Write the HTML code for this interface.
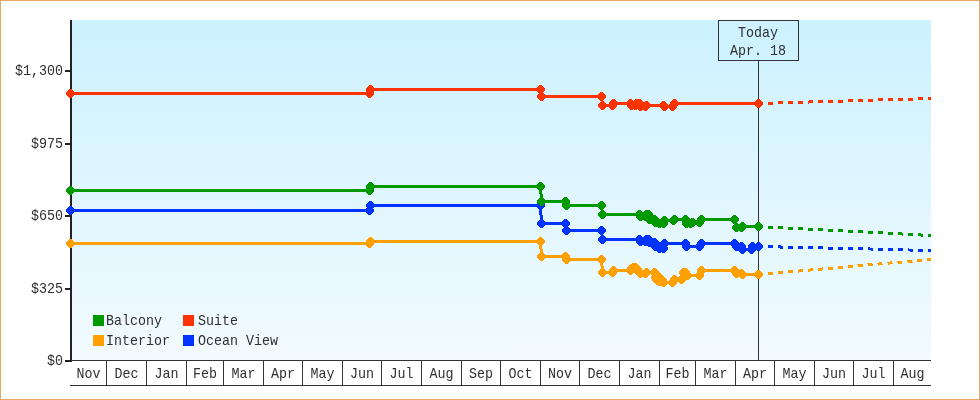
<!DOCTYPE html>
<html lang="en">
<head>
<meta charset="utf-8">
<title>Price history chart</title>
<style>
html,body{margin:0;padding:0;background:#ffffff;}
body{width:980px;height:400px;overflow:hidden;position:relative;}
#chart{position:absolute;left:0;top:0;width:980px;height:400px;box-sizing:border-box;border:1px solid #E8A964;background:#ffffff;}
#chart svg{position:absolute;left:-1px;top:-1px;display:block;}
</style>
</head>
<body>
<div id="chart">
<svg width="980" height="400" viewBox="0 0 980 400">
<defs><linearGradient id="bg" x1="0" y1="0" x2="0" y2="1"><stop offset="0" stop-color="#CCF1FF"/><stop offset="1" stop-color="#F2FBFF"/></linearGradient></defs>
<rect x="70" y="20" width="861" height="340" fill="url(#bg)"/>
<g shape-rendering="crispEdges">
<rect x="758" y="60" width="1" height="300" fill="#333333"/>
<rect x="718.5" y="20.5" width="80" height="40" fill="#CEF2FF" stroke="#333333" stroke-width="1"/>
<rect x="70" y="20" width="2" height="342" fill="#222222"/>
<rect x="70" y="360" width="861" height="1" fill="#333333"/>
<rect x="70" y="385" width="861" height="1" fill="#333333"/>
<rect x="106" y="360" width="1" height="26" fill="#333333"/>
<rect x="146" y="360" width="1" height="26" fill="#333333"/>
<rect x="186" y="360" width="1" height="26" fill="#333333"/>
<rect x="223" y="360" width="1" height="26" fill="#333333"/>
<rect x="263" y="360" width="1" height="26" fill="#333333"/>
<rect x="302" y="360" width="1" height="26" fill="#333333"/>
<rect x="342" y="360" width="1" height="26" fill="#333333"/>
<rect x="381" y="360" width="1" height="26" fill="#333333"/>
<rect x="421" y="360" width="1" height="26" fill="#333333"/>
<rect x="461" y="360" width="1" height="26" fill="#333333"/>
<rect x="500" y="360" width="1" height="26" fill="#333333"/>
<rect x="540" y="360" width="1" height="26" fill="#333333"/>
<rect x="579" y="360" width="1" height="26" fill="#333333"/>
<rect x="619" y="360" width="1" height="26" fill="#333333"/>
<rect x="659" y="360" width="1" height="26" fill="#333333"/>
<rect x="695" y="360" width="1" height="26" fill="#333333"/>
<rect x="735" y="360" width="1" height="26" fill="#333333"/>
<rect x="774" y="360" width="1" height="26" fill="#333333"/>
<rect x="814" y="360" width="1" height="26" fill="#333333"/>
<rect x="853" y="360" width="1" height="26" fill="#333333"/>
<rect x="893" y="360" width="1" height="26" fill="#333333"/>
<rect x="65" y="70" width="6" height="2" fill="#222222"/>
<rect x="65" y="143" width="6" height="2" fill="#222222"/>
<rect x="65" y="215" width="6" height="2" fill="#222222"/>
<rect x="65" y="288" width="6" height="2" fill="#222222"/>
<rect x="65" y="360" width="6" height="2" fill="#222222"/>
</g>
<g shape-rendering="crispEdges" fill="#FF9F00" stroke="none">
<polyline points="70.5,243.5 369.5,243.5 370.5,241.5 540.5,241.5 541.5,256.5 565.5,256.5 566.5,259.5 601.5,259.5 602.5,272.5 612.5,272.5 613.5,270.5 630.5,270.5 631.5,268.5 633.5,267.5 635.5,267.5 640.5,273.5 645.5,273.5 646.5,272.5 654.5,272.5 655.5,277.5 659.5,281.5 663.5,282.5 672.5,282.5 674.5,279.5 681.5,279.5 683.5,272.5 685.5,272.5 687.5,275.5 699.5,275.5 701.5,270.5 734.5,270.5 736.5,273.5 741.5,273.5 742.5,274.5 758.5,274.5" fill="none" stroke="#FF9F00" stroke-width="3" stroke-linejoin="miter"/>
<polyline points="759,274.5 931,259.45" fill="none" stroke="#FF9F00" stroke-width="3" stroke-dasharray="5 5" stroke-dashoffset="1"/>
<path d="M69 239h3v1h1v1h1v1h1v3h-1v1h-1v1h-1v1h-3v-1h-1v-1h-1v-1h-1v-3h1v-1h1v-1h1zM368 239h3v1h1v1h1v1h1v3h-1v1h-1v1h-1v1h-3v-1h-1v-1h-1v-1h-1v-3h1v-1h1v-1h1zM369 237h3v1h1v1h1v1h1v3h-1v1h-1v1h-1v1h-3v-1h-1v-1h-1v-1h-1v-3h1v-1h1v-1h1zM539 237h3v1h1v1h1v1h1v3h-1v1h-1v1h-1v1h-3v-1h-1v-1h-1v-1h-1v-3h1v-1h1v-1h1zM540 252h3v1h1v1h1v1h1v3h-1v1h-1v1h-1v1h-3v-1h-1v-1h-1v-1h-1v-3h1v-1h1v-1h1zM564 252h3v1h1v1h1v1h1v3h-1v1h-1v1h-1v1h-3v-1h-1v-1h-1v-1h-1v-3h1v-1h1v-1h1zM565 255h3v1h1v1h1v1h1v3h-1v1h-1v1h-1v1h-3v-1h-1v-1h-1v-1h-1v-3h1v-1h1v-1h1zM600 255h3v1h1v1h1v1h1v3h-1v1h-1v1h-1v1h-3v-1h-1v-1h-1v-1h-1v-3h1v-1h1v-1h1zM601 268h3v1h1v1h1v1h1v3h-1v1h-1v1h-1v1h-3v-1h-1v-1h-1v-1h-1v-3h1v-1h1v-1h1zM611 268h3v1h1v1h1v1h1v3h-1v1h-1v1h-1v1h-3v-1h-1v-1h-1v-1h-1v-3h1v-1h1v-1h1zM612 266h3v1h1v1h1v1h1v3h-1v1h-1v1h-1v1h-3v-1h-1v-1h-1v-1h-1v-3h1v-1h1v-1h1zM629 266h3v1h1v1h1v1h1v3h-1v1h-1v1h-1v1h-3v-1h-1v-1h-1v-1h-1v-3h1v-1h1v-1h1zM630 264h3v1h1v1h1v1h1v3h-1v1h-1v1h-1v1h-3v-1h-1v-1h-1v-1h-1v-3h1v-1h1v-1h1zM632 263h3v1h1v1h1v1h1v3h-1v1h-1v1h-1v1h-3v-1h-1v-1h-1v-1h-1v-3h1v-1h1v-1h1zM634 263h3v1h1v1h1v1h1v3h-1v1h-1v1h-1v1h-3v-1h-1v-1h-1v-1h-1v-3h1v-1h1v-1h1zM639 269h3v1h1v1h1v1h1v3h-1v1h-1v1h-1v1h-3v-1h-1v-1h-1v-1h-1v-3h1v-1h1v-1h1zM644 269h3v1h1v1h1v1h1v3h-1v1h-1v1h-1v1h-3v-1h-1v-1h-1v-1h-1v-3h1v-1h1v-1h1zM645 268h3v1h1v1h1v1h1v3h-1v1h-1v1h-1v1h-3v-1h-1v-1h-1v-1h-1v-3h1v-1h1v-1h1zM653 268h3v1h1v1h1v1h1v3h-1v1h-1v1h-1v1h-3v-1h-1v-1h-1v-1h-1v-3h1v-1h1v-1h1zM654 273h3v1h1v1h1v1h1v3h-1v1h-1v1h-1v1h-3v-1h-1v-1h-1v-1h-1v-3h1v-1h1v-1h1zM658 277h3v1h1v1h1v1h1v3h-1v1h-1v1h-1v1h-3v-1h-1v-1h-1v-1h-1v-3h1v-1h1v-1h1zM662 278h3v1h1v1h1v1h1v3h-1v1h-1v1h-1v1h-3v-1h-1v-1h-1v-1h-1v-3h1v-1h1v-1h1zM671 278h3v1h1v1h1v1h1v3h-1v1h-1v1h-1v1h-3v-1h-1v-1h-1v-1h-1v-3h1v-1h1v-1h1zM673 275h3v1h1v1h1v1h1v3h-1v1h-1v1h-1v1h-3v-1h-1v-1h-1v-1h-1v-3h1v-1h1v-1h1zM680 275h3v1h1v1h1v1h1v3h-1v1h-1v1h-1v1h-3v-1h-1v-1h-1v-1h-1v-3h1v-1h1v-1h1zM682 268h3v1h1v1h1v1h1v3h-1v1h-1v1h-1v1h-3v-1h-1v-1h-1v-1h-1v-3h1v-1h1v-1h1zM684 268h3v1h1v1h1v1h1v3h-1v1h-1v1h-1v1h-3v-1h-1v-1h-1v-1h-1v-3h1v-1h1v-1h1zM686 271h3v1h1v1h1v1h1v3h-1v1h-1v1h-1v1h-3v-1h-1v-1h-1v-1h-1v-3h1v-1h1v-1h1zM698 271h3v1h1v1h1v1h1v3h-1v1h-1v1h-1v1h-3v-1h-1v-1h-1v-1h-1v-3h1v-1h1v-1h1zM700 266h3v1h1v1h1v1h1v3h-1v1h-1v1h-1v1h-3v-1h-1v-1h-1v-1h-1v-3h1v-1h1v-1h1zM733 266h3v1h1v1h1v1h1v3h-1v1h-1v1h-1v1h-3v-1h-1v-1h-1v-1h-1v-3h1v-1h1v-1h1zM735 269h3v1h1v1h1v1h1v3h-1v1h-1v1h-1v1h-3v-1h-1v-1h-1v-1h-1v-3h1v-1h1v-1h1zM740 269h3v1h1v1h1v1h1v3h-1v1h-1v1h-1v1h-3v-1h-1v-1h-1v-1h-1v-3h1v-1h1v-1h1zM741 270h3v1h1v1h1v1h1v3h-1v1h-1v1h-1v1h-3v-1h-1v-1h-1v-1h-1v-3h1v-1h1v-1h1zM757 270h3v1h1v1h1v1h1v3h-1v1h-1v1h-1v1h-3v-1h-1v-1h-1v-1h-1v-3h1v-1h1v-1h1zM635 264h3v1h1v1h1v1h1v3h-1v1h-1v1h-1v1h-3v-1h-1v-1h-1v-1h-1v-3h1v-1h1v-1h1zM636 265h3v1h1v1h1v1h1v3h-1v1h-1v1h-1v1h-3v-1h-1v-1h-1v-1h-1v-3h1v-1h1v-1h1zM637 267h3v1h1v1h1v1h1v3h-1v1h-1v1h-1v1h-3v-1h-1v-1h-1v-1h-1v-3h1v-1h1v-1h1zM638 268h3v1h1v1h1v1h1v3h-1v1h-1v1h-1v1h-3v-1h-1v-1h-1v-1h-1v-3h1v-1h1v-1h1zM655 270h3v1h1v1h1v1h1v3h-1v1h-1v1h-1v1h-3v-1h-1v-1h-1v-1h-1v-3h1v-1h1v-1h1zM657 272h3v1h1v1h1v1h1v3h-1v1h-1v1h-1v1h-3v-1h-1v-1h-1v-1h-1v-3h1v-1h1v-1h1zM659 274h3v1h1v1h1v1h1v3h-1v1h-1v1h-1v1h-3v-1h-1v-1h-1v-1h-1v-3h1v-1h1v-1h1zM661 276h3v1h1v1h1v1h1v3h-1v1h-1v1h-1v1h-3v-1h-1v-1h-1v-1h-1v-3h1v-1h1v-1h1zM655 275h3v1h1v1h1v1h1v3h-1v1h-1v1h-1v1h-3v-1h-1v-1h-1v-1h-1v-3h1v-1h1v-1h1zM656 276h3v1h1v1h1v1h1v3h-1v1h-1v1h-1v1h-3v-1h-1v-1h-1v-1h-1v-3h1v-1h1v-1h1z"/>
</g>
<g shape-rendering="crispEdges" fill="#0033FF" stroke="none">
<polyline points="70.5,210.5 369.5,210.5 370.5,205.5 540.5,205.5 541.5,223.5 565.5,223.5 566.5,230.5 601.5,230.5 602.5,239.5 639.5,239.5 640.5,241.5 645.5,241.5 646.5,239.5 648.5,239.5 649.5,242.5 654.5,242.5 655.5,246.5 659.5,248.5 663.5,248.5 664.5,243.5 685.5,243.5 686.5,246.5 699.5,246.5 701.5,243.5 734.5,243.5 736.5,246.5 741.5,246.5 742.5,249.5 751.5,249.5 752.5,246.5 758.5,246.5" fill="none" stroke="#0033FF" stroke-width="3" stroke-linejoin="miter"/>
<polyline points="759,246.53 870,249 909,250 931,250.5" fill="none" stroke="#0033FF" stroke-width="3" stroke-dasharray="5 5" stroke-dashoffset="1"/>
<path d="M69 206h3v1h1v1h1v1h1v3h-1v1h-1v1h-1v1h-3v-1h-1v-1h-1v-1h-1v-3h1v-1h1v-1h1zM368 206h3v1h1v1h1v1h1v3h-1v1h-1v1h-1v1h-3v-1h-1v-1h-1v-1h-1v-3h1v-1h1v-1h1zM369 201h3v1h1v1h1v1h1v3h-1v1h-1v1h-1v1h-3v-1h-1v-1h-1v-1h-1v-3h1v-1h1v-1h1zM539 201h3v1h1v1h1v1h1v3h-1v1h-1v1h-1v1h-3v-1h-1v-1h-1v-1h-1v-3h1v-1h1v-1h1zM540 219h3v1h1v1h1v1h1v3h-1v1h-1v1h-1v1h-3v-1h-1v-1h-1v-1h-1v-3h1v-1h1v-1h1zM564 219h3v1h1v1h1v1h1v3h-1v1h-1v1h-1v1h-3v-1h-1v-1h-1v-1h-1v-3h1v-1h1v-1h1zM565 226h3v1h1v1h1v1h1v3h-1v1h-1v1h-1v1h-3v-1h-1v-1h-1v-1h-1v-3h1v-1h1v-1h1zM600 226h3v1h1v1h1v1h1v3h-1v1h-1v1h-1v1h-3v-1h-1v-1h-1v-1h-1v-3h1v-1h1v-1h1zM601 235h3v1h1v1h1v1h1v3h-1v1h-1v1h-1v1h-3v-1h-1v-1h-1v-1h-1v-3h1v-1h1v-1h1zM638 235h3v1h1v1h1v1h1v3h-1v1h-1v1h-1v1h-3v-1h-1v-1h-1v-1h-1v-3h1v-1h1v-1h1zM639 237h3v1h1v1h1v1h1v3h-1v1h-1v1h-1v1h-3v-1h-1v-1h-1v-1h-1v-3h1v-1h1v-1h1zM644 237h3v1h1v1h1v1h1v3h-1v1h-1v1h-1v1h-3v-1h-1v-1h-1v-1h-1v-3h1v-1h1v-1h1zM645 235h3v1h1v1h1v1h1v3h-1v1h-1v1h-1v1h-3v-1h-1v-1h-1v-1h-1v-3h1v-1h1v-1h1zM647 235h3v1h1v1h1v1h1v3h-1v1h-1v1h-1v1h-3v-1h-1v-1h-1v-1h-1v-3h1v-1h1v-1h1zM648 238h3v1h1v1h1v1h1v3h-1v1h-1v1h-1v1h-3v-1h-1v-1h-1v-1h-1v-3h1v-1h1v-1h1zM653 238h3v1h1v1h1v1h1v3h-1v1h-1v1h-1v1h-3v-1h-1v-1h-1v-1h-1v-3h1v-1h1v-1h1zM654 242h3v1h1v1h1v1h1v3h-1v1h-1v1h-1v1h-3v-1h-1v-1h-1v-1h-1v-3h1v-1h1v-1h1zM658 244h3v1h1v1h1v1h1v3h-1v1h-1v1h-1v1h-3v-1h-1v-1h-1v-1h-1v-3h1v-1h1v-1h1zM662 244h3v1h1v1h1v1h1v3h-1v1h-1v1h-1v1h-3v-1h-1v-1h-1v-1h-1v-3h1v-1h1v-1h1zM663 239h3v1h1v1h1v1h1v3h-1v1h-1v1h-1v1h-3v-1h-1v-1h-1v-1h-1v-3h1v-1h1v-1h1zM684 239h3v1h1v1h1v1h1v3h-1v1h-1v1h-1v1h-3v-1h-1v-1h-1v-1h-1v-3h1v-1h1v-1h1zM685 242h3v1h1v1h1v1h1v3h-1v1h-1v1h-1v1h-3v-1h-1v-1h-1v-1h-1v-3h1v-1h1v-1h1zM698 242h3v1h1v1h1v1h1v3h-1v1h-1v1h-1v1h-3v-1h-1v-1h-1v-1h-1v-3h1v-1h1v-1h1zM700 239h3v1h1v1h1v1h1v3h-1v1h-1v1h-1v1h-3v-1h-1v-1h-1v-1h-1v-3h1v-1h1v-1h1zM733 239h3v1h1v1h1v1h1v3h-1v1h-1v1h-1v1h-3v-1h-1v-1h-1v-1h-1v-3h1v-1h1v-1h1zM735 242h3v1h1v1h1v1h1v3h-1v1h-1v1h-1v1h-3v-1h-1v-1h-1v-1h-1v-3h1v-1h1v-1h1zM740 242h3v1h1v1h1v1h1v3h-1v1h-1v1h-1v1h-3v-1h-1v-1h-1v-1h-1v-3h1v-1h1v-1h1zM741 245h3v1h1v1h1v1h1v3h-1v1h-1v1h-1v1h-3v-1h-1v-1h-1v-1h-1v-3h1v-1h1v-1h1zM750 245h3v1h1v1h1v1h1v3h-1v1h-1v1h-1v1h-3v-1h-1v-1h-1v-1h-1v-3h1v-1h1v-1h1zM751 242h3v1h1v1h1v1h1v3h-1v1h-1v1h-1v1h-3v-1h-1v-1h-1v-1h-1v-3h1v-1h1v-1h1zM757 242h3v1h1v1h1v1h1v3h-1v1h-1v1h-1v1h-3v-1h-1v-1h-1v-1h-1v-3h1v-1h1v-1h1zM655 240h3v1h1v1h1v1h1v3h-1v1h-1v1h-1v1h-3v-1h-1v-1h-1v-1h-1v-3h1v-1h1v-1h1zM656 241h3v1h1v1h1v1h1v3h-1v1h-1v1h-1v1h-3v-1h-1v-1h-1v-1h-1v-3h1v-1h1v-1h1z"/>
</g>
<g shape-rendering="crispEdges" fill="#009900" stroke="none">
<polyline points="70.5,190.5 369.5,190.5 370.5,186.5 540.5,186.5 541.5,201.5 565.5,201.5 566.5,205.5 601.5,205.5 602.5,214.5 639.5,214.5 640.5,216.5 645.5,216.5 646.5,214.5 648.5,214.5 649.5,219.5 654.5,219.5 655.5,222.5 659.5,223.5 663.5,223.5 664.5,220.5 673.5,220.5 674.5,219.5 685.5,219.5 686.5,223.5 690.5,223.5 692.5,222.5 699.5,222.5 701.5,219.5 734.5,219.5 736.5,227.5 741.5,227.5 742.5,226.5 758.5,226.5" fill="none" stroke="#009900" stroke-width="3" stroke-linejoin="miter"/>
<polyline points="759,226.7 885,233 902,234 921,235 931,235.5" fill="none" stroke="#009900" stroke-width="3" stroke-dasharray="5 5" stroke-dashoffset="1"/>
<path d="M69 186h3v1h1v1h1v1h1v3h-1v1h-1v1h-1v1h-3v-1h-1v-1h-1v-1h-1v-3h1v-1h1v-1h1zM368 186h3v1h1v1h1v1h1v3h-1v1h-1v1h-1v1h-3v-1h-1v-1h-1v-1h-1v-3h1v-1h1v-1h1zM369 182h3v1h1v1h1v1h1v3h-1v1h-1v1h-1v1h-3v-1h-1v-1h-1v-1h-1v-3h1v-1h1v-1h1zM539 182h3v1h1v1h1v1h1v3h-1v1h-1v1h-1v1h-3v-1h-1v-1h-1v-1h-1v-3h1v-1h1v-1h1zM540 197h3v1h1v1h1v1h1v3h-1v1h-1v1h-1v1h-3v-1h-1v-1h-1v-1h-1v-3h1v-1h1v-1h1zM564 197h3v1h1v1h1v1h1v3h-1v1h-1v1h-1v1h-3v-1h-1v-1h-1v-1h-1v-3h1v-1h1v-1h1zM565 201h3v1h1v1h1v1h1v3h-1v1h-1v1h-1v1h-3v-1h-1v-1h-1v-1h-1v-3h1v-1h1v-1h1zM600 201h3v1h1v1h1v1h1v3h-1v1h-1v1h-1v1h-3v-1h-1v-1h-1v-1h-1v-3h1v-1h1v-1h1zM601 210h3v1h1v1h1v1h1v3h-1v1h-1v1h-1v1h-3v-1h-1v-1h-1v-1h-1v-3h1v-1h1v-1h1zM638 210h3v1h1v1h1v1h1v3h-1v1h-1v1h-1v1h-3v-1h-1v-1h-1v-1h-1v-3h1v-1h1v-1h1zM639 212h3v1h1v1h1v1h1v3h-1v1h-1v1h-1v1h-3v-1h-1v-1h-1v-1h-1v-3h1v-1h1v-1h1zM644 212h3v1h1v1h1v1h1v3h-1v1h-1v1h-1v1h-3v-1h-1v-1h-1v-1h-1v-3h1v-1h1v-1h1zM645 210h3v1h1v1h1v1h1v3h-1v1h-1v1h-1v1h-3v-1h-1v-1h-1v-1h-1v-3h1v-1h1v-1h1zM647 210h3v1h1v1h1v1h1v3h-1v1h-1v1h-1v1h-3v-1h-1v-1h-1v-1h-1v-3h1v-1h1v-1h1zM648 215h3v1h1v1h1v1h1v3h-1v1h-1v1h-1v1h-3v-1h-1v-1h-1v-1h-1v-3h1v-1h1v-1h1zM653 215h3v1h1v1h1v1h1v3h-1v1h-1v1h-1v1h-3v-1h-1v-1h-1v-1h-1v-3h1v-1h1v-1h1zM654 218h3v1h1v1h1v1h1v3h-1v1h-1v1h-1v1h-3v-1h-1v-1h-1v-1h-1v-3h1v-1h1v-1h1zM658 219h3v1h1v1h1v1h1v3h-1v1h-1v1h-1v1h-3v-1h-1v-1h-1v-1h-1v-3h1v-1h1v-1h1zM662 219h3v1h1v1h1v1h1v3h-1v1h-1v1h-1v1h-3v-1h-1v-1h-1v-1h-1v-3h1v-1h1v-1h1zM663 216h3v1h1v1h1v1h1v3h-1v1h-1v1h-1v1h-3v-1h-1v-1h-1v-1h-1v-3h1v-1h1v-1h1zM672 216h3v1h1v1h1v1h1v3h-1v1h-1v1h-1v1h-3v-1h-1v-1h-1v-1h-1v-3h1v-1h1v-1h1zM673 215h3v1h1v1h1v1h1v3h-1v1h-1v1h-1v1h-3v-1h-1v-1h-1v-1h-1v-3h1v-1h1v-1h1zM684 215h3v1h1v1h1v1h1v3h-1v1h-1v1h-1v1h-3v-1h-1v-1h-1v-1h-1v-3h1v-1h1v-1h1zM685 219h3v1h1v1h1v1h1v3h-1v1h-1v1h-1v1h-3v-1h-1v-1h-1v-1h-1v-3h1v-1h1v-1h1zM689 219h3v1h1v1h1v1h1v3h-1v1h-1v1h-1v1h-3v-1h-1v-1h-1v-1h-1v-3h1v-1h1v-1h1zM691 218h3v1h1v1h1v1h1v3h-1v1h-1v1h-1v1h-3v-1h-1v-1h-1v-1h-1v-3h1v-1h1v-1h1zM698 218h3v1h1v1h1v1h1v3h-1v1h-1v1h-1v1h-3v-1h-1v-1h-1v-1h-1v-3h1v-1h1v-1h1zM700 215h3v1h1v1h1v1h1v3h-1v1h-1v1h-1v1h-3v-1h-1v-1h-1v-1h-1v-3h1v-1h1v-1h1zM733 215h3v1h1v1h1v1h1v3h-1v1h-1v1h-1v1h-3v-1h-1v-1h-1v-1h-1v-3h1v-1h1v-1h1zM735 223h3v1h1v1h1v1h1v3h-1v1h-1v1h-1v1h-3v-1h-1v-1h-1v-1h-1v-3h1v-1h1v-1h1zM740 223h3v1h1v1h1v1h1v3h-1v1h-1v1h-1v1h-3v-1h-1v-1h-1v-1h-1v-3h1v-1h1v-1h1zM741 222h3v1h1v1h1v1h1v3h-1v1h-1v1h-1v1h-3v-1h-1v-1h-1v-1h-1v-3h1v-1h1v-1h1zM757 222h3v1h1v1h1v1h1v3h-1v1h-1v1h-1v1h-3v-1h-1v-1h-1v-1h-1v-3h1v-1h1v-1h1z"/>
</g>
<g shape-rendering="crispEdges" fill="#FF3300" stroke="none">
<polyline points="70.5,93.5 369.5,93.5 370.5,89.5 540.5,89.5 541.5,96.5 601.5,96.5 602.5,105.5 612.5,105.5 613.5,103.5 630.5,103.5 631.5,105.5 635.5,105.5 636.5,103.5 639.5,103.5 640.5,106.5 645.5,106.5 646.5,105.5 663.5,105.5 664.5,106.5 672.5,106.5 674.5,103.5 758.5,103.5" fill="none" stroke="#FF3300" stroke-width="3" stroke-linejoin="miter"/>
<polyline points="759,103.5 775,103 809,102 845,101 878,100 916,99 931,98.6" fill="none" stroke="#FF3300" stroke-width="3" stroke-dasharray="5 5" stroke-dashoffset="1"/>
<path d="M69 89h3v1h1v1h1v1h1v3h-1v1h-1v1h-1v1h-3v-1h-1v-1h-1v-1h-1v-3h1v-1h1v-1h1zM368 89h3v1h1v1h1v1h1v3h-1v1h-1v1h-1v1h-3v-1h-1v-1h-1v-1h-1v-3h1v-1h1v-1h1zM369 85h3v1h1v1h1v1h1v3h-1v1h-1v1h-1v1h-3v-1h-1v-1h-1v-1h-1v-3h1v-1h1v-1h1zM539 85h3v1h1v1h1v1h1v3h-1v1h-1v1h-1v1h-3v-1h-1v-1h-1v-1h-1v-3h1v-1h1v-1h1zM540 92h3v1h1v1h1v1h1v3h-1v1h-1v1h-1v1h-3v-1h-1v-1h-1v-1h-1v-3h1v-1h1v-1h1zM600 92h3v1h1v1h1v1h1v3h-1v1h-1v1h-1v1h-3v-1h-1v-1h-1v-1h-1v-3h1v-1h1v-1h1zM601 101h3v1h1v1h1v1h1v3h-1v1h-1v1h-1v1h-3v-1h-1v-1h-1v-1h-1v-3h1v-1h1v-1h1zM611 101h3v1h1v1h1v1h1v3h-1v1h-1v1h-1v1h-3v-1h-1v-1h-1v-1h-1v-3h1v-1h1v-1h1zM612 99h3v1h1v1h1v1h1v3h-1v1h-1v1h-1v1h-3v-1h-1v-1h-1v-1h-1v-3h1v-1h1v-1h1zM629 99h3v1h1v1h1v1h1v3h-1v1h-1v1h-1v1h-3v-1h-1v-1h-1v-1h-1v-3h1v-1h1v-1h1zM630 101h3v1h1v1h1v1h1v3h-1v1h-1v1h-1v1h-3v-1h-1v-1h-1v-1h-1v-3h1v-1h1v-1h1zM634 101h3v1h1v1h1v1h1v3h-1v1h-1v1h-1v1h-3v-1h-1v-1h-1v-1h-1v-3h1v-1h1v-1h1zM635 99h3v1h1v1h1v1h1v3h-1v1h-1v1h-1v1h-3v-1h-1v-1h-1v-1h-1v-3h1v-1h1v-1h1zM638 99h3v1h1v1h1v1h1v3h-1v1h-1v1h-1v1h-3v-1h-1v-1h-1v-1h-1v-3h1v-1h1v-1h1zM639 102h3v1h1v1h1v1h1v3h-1v1h-1v1h-1v1h-3v-1h-1v-1h-1v-1h-1v-3h1v-1h1v-1h1zM644 102h3v1h1v1h1v1h1v3h-1v1h-1v1h-1v1h-3v-1h-1v-1h-1v-1h-1v-3h1v-1h1v-1h1zM645 101h3v1h1v1h1v1h1v3h-1v1h-1v1h-1v1h-3v-1h-1v-1h-1v-1h-1v-3h1v-1h1v-1h1zM662 101h3v1h1v1h1v1h1v3h-1v1h-1v1h-1v1h-3v-1h-1v-1h-1v-1h-1v-3h1v-1h1v-1h1zM663 102h3v1h1v1h1v1h1v3h-1v1h-1v1h-1v1h-3v-1h-1v-1h-1v-1h-1v-3h1v-1h1v-1h1zM671 102h3v1h1v1h1v1h1v3h-1v1h-1v1h-1v1h-3v-1h-1v-1h-1v-1h-1v-3h1v-1h1v-1h1zM673 99h3v1h1v1h1v1h1v3h-1v1h-1v1h-1v1h-3v-1h-1v-1h-1v-1h-1v-3h1v-1h1v-1h1zM757 99h3v1h1v1h1v1h1v3h-1v1h-1v1h-1v1h-3v-1h-1v-1h-1v-1h-1v-3h1v-1h1v-1h1z"/>
</g>
<g shape-rendering="crispEdges">
<rect x="93" y="315" width="11" height="11" fill="#009900"/>
<rect x="183" y="315" width="11" height="11" fill="#FF3300"/>
<rect x="93" y="335" width="11" height="11" fill="#FF9F00"/>
<rect x="183" y="335" width="11" height="11" fill="#0033FF"/>
</g>
<g font-family="'Liberation Mono', 'DejaVu Sans Mono', monospace" font-size="14.8px" fill="#303030">
<text x="106" y="325" textLength="56" lengthAdjust="spacingAndGlyphs">Balcony</text>
<text x="198" y="325" textLength="40" lengthAdjust="spacingAndGlyphs">Suite</text>
<text x="106" y="345" textLength="64" lengthAdjust="spacingAndGlyphs">Interior</text>
<text x="198" y="345" textLength="80" lengthAdjust="spacingAndGlyphs">Ocean View</text>
<text x="738" y="37" textLength="40" lengthAdjust="spacingAndGlyphs">Today</text>
<text x="730" y="55" textLength="56" lengthAdjust="spacingAndGlyphs">Apr. 18</text>
<text x="15" y="75" textLength="48" lengthAdjust="spacingAndGlyphs">$1,300</text>
<text x="31" y="148" textLength="32" lengthAdjust="spacingAndGlyphs">$975</text>
<text x="31" y="220" textLength="32" lengthAdjust="spacingAndGlyphs">$650</text>
<text x="31" y="293" textLength="32" lengthAdjust="spacingAndGlyphs">$325</text>
<text x="47" y="365" textLength="16" lengthAdjust="spacingAndGlyphs">$0</text>
<text x="76.5" y="378" textLength="24" lengthAdjust="spacingAndGlyphs">Nov</text>
<text x="114.5" y="378" textLength="24" lengthAdjust="spacingAndGlyphs">Dec</text>
<text x="154.5" y="378" textLength="24" lengthAdjust="spacingAndGlyphs">Jan</text>
<text x="193" y="378" textLength="24" lengthAdjust="spacingAndGlyphs">Feb</text>
<text x="231.5" y="378" textLength="24" lengthAdjust="spacingAndGlyphs">Mar</text>
<text x="271" y="378" textLength="24" lengthAdjust="spacingAndGlyphs">Apr</text>
<text x="310.5" y="378" textLength="24" lengthAdjust="spacingAndGlyphs">May</text>
<text x="350" y="378" textLength="24" lengthAdjust="spacingAndGlyphs">Jun</text>
<text x="389.5" y="378" textLength="24" lengthAdjust="spacingAndGlyphs">Jul</text>
<text x="429.5" y="378" textLength="24" lengthAdjust="spacingAndGlyphs">Aug</text>
<text x="469" y="378" textLength="24" lengthAdjust="spacingAndGlyphs">Sep</text>
<text x="508.5" y="378" textLength="24" lengthAdjust="spacingAndGlyphs">Oct</text>
<text x="548" y="378" textLength="24" lengthAdjust="spacingAndGlyphs">Nov</text>
<text x="587.5" y="378" textLength="24" lengthAdjust="spacingAndGlyphs">Dec</text>
<text x="627.5" y="378" textLength="24" lengthAdjust="spacingAndGlyphs">Jan</text>
<text x="665.5" y="378" textLength="24" lengthAdjust="spacingAndGlyphs">Feb</text>
<text x="703.5" y="378" textLength="24" lengthAdjust="spacingAndGlyphs">Mar</text>
<text x="743" y="378" textLength="24" lengthAdjust="spacingAndGlyphs">Apr</text>
<text x="782.5" y="378" textLength="24" lengthAdjust="spacingAndGlyphs">May</text>
<text x="822" y="378" textLength="24" lengthAdjust="spacingAndGlyphs">Jun</text>
<text x="861.5" y="378" textLength="24" lengthAdjust="spacingAndGlyphs">Jul</text>
<text x="900.5" y="378" textLength="24" lengthAdjust="spacingAndGlyphs">Aug</text>
</g>
</svg>
</div>
</body>
</html>
